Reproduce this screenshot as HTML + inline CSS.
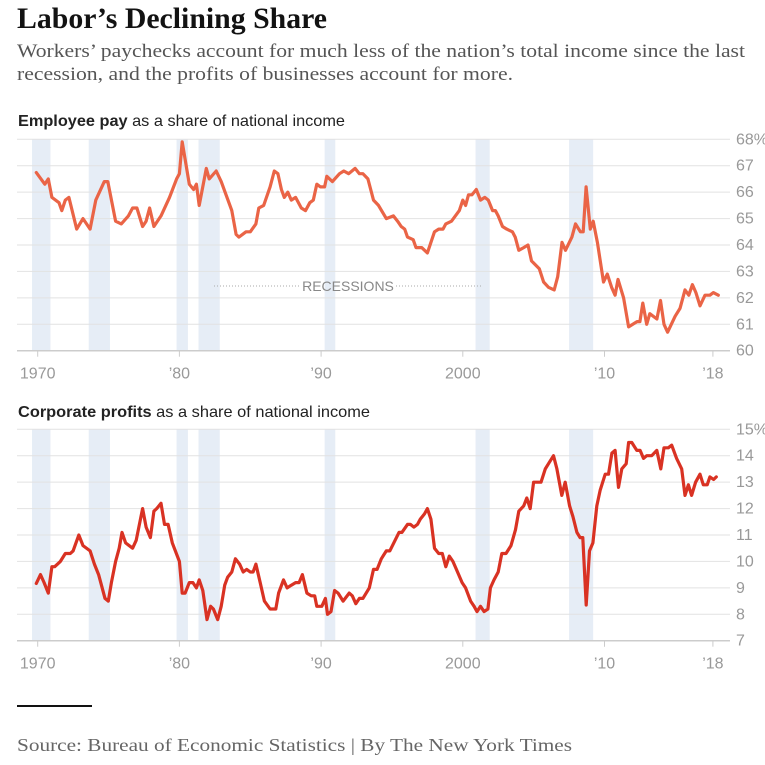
<!DOCTYPE html>
<html><head><meta charset="utf-8"><style>
body{margin:0;background:#fff;width:765px;height:765px;overflow:hidden}
svg{display:block}
.t{font-family:"Liberation Serif",serif}
.s{font-family:"Liberation Sans",sans-serif}
</style></head><body>
<svg id="c" width="765" height="765" viewBox="0 0 765 765">
<text class="t" x="17" y="28" font-size="30" font-weight="bold" fill="#121212" textLength="310" lengthAdjust="spacingAndGlyphs">Labor’s Declining Share</text>
<text class="t" x="17" y="57" font-size="19" fill="#555" textLength="728" lengthAdjust="spacingAndGlyphs">Workers’ paychecks account for much less of the nation’s total income since the last</text>
<text class="t" x="17" y="80" font-size="19" fill="#555" textLength="496" lengthAdjust="spacingAndGlyphs">recession, and the profits of businesses account for more.</text>
<text class="s" x="18" y="126" font-size="16" fill="#222" textLength="327" lengthAdjust="spacingAndGlyphs"><tspan font-weight="bold">Employee pay</tspan> as a share of national income</text>
<text class="s" x="18" y="417" font-size="16" fill="#222" textLength="352" lengthAdjust="spacingAndGlyphs"><tspan font-weight="bold">Corporate profits</tspan> as a share of national income</text>
<line x1="17" y1="706" x2="92" y2="706" stroke="#121212" stroke-width="2"/>
<text class="t" x="17" y="751" font-size="18" fill="#666" textLength="555" lengthAdjust="spacingAndGlyphs">Source: Bureau of Economic Statistics | By The New York Times</text>
<g id="g1"></g><g id="g2"></g>
</svg>
<script>
const recStart=[1969.6,1973.6,1979.8,1981.35,1990.25,2000.9,2007.5];
const recEnd=[1970.9,1975.1,1980.6,1982.85,1991.0,2001.9,2009.2];
const xTicks=[1970,1980,1990,2000,2010,2017.65];
const xTickLabels=["1970","’80","’90","2000","’10","’18"];
const payYears=[1969.9,1970.5,1970.75,1971,1971.5,1971.7,1971.95,1972.2,1972.75,1973.2,1973.7,1974.1,1974.7,1974.95,1975.5,1975.9,1976.4,1976.7,1977.0,1977.4,1977.65,1977.9,1978.2,1978.7,1979.3,1979.8,1980.0,1980.2,1980.7,1981.0,1981.2,1981.4,1981.9,1982.1,1982.6,1982.95,1983.7,1984.0,1984.2,1984.7,1985.0,1985.4,1985.6,1985.95,1986.4,1986.7,1986.95,1987.2,1987.4,1987.65,1987.9,1988.2,1988.6,1988.9,1989.2,1989.45,1989.7,1989.95,1990.25,1990.4,1990.8,1991.3,1991.6,1991.95,1992.4,1992.7,1992.95,1993.3,1993.7,1994.05,1994.6,1995.1,1995.4,1995.65,1995.9,1996.1,1996.5,1996.7,1997.1,1997.5,1998.0,1998.3,1998.6,1998.8,1999.2,1999.75,2000.0,2000.2,2000.4,2000.65,2000.95,2001.25,2001.55,2001.8,2002.1,2002.3,2002.5,2002.8,2003.1,2003.5,2003.7,2003.95,2004.3,2004.6,2004.85,2005.4,2005.7,2006.05,2006.45,2006.7,2007.0,2007.25,2007.7,2007.95,2008.3,2008.5,2008.7,2009.0,2009.2,2009.5,2009.93,2010.2,2010.5,2010.75,2010.95,2011.35,2011.7,2012.3,2012.5,2012.7,2012.98,2013.2,2013.7,2013.95,2014.2,2014.45,2014.98,2015.33,2015.68,2015.95,2016.2,2016.45,2016.74,2017.09,2017.44,2017.68,2018.03];
const payValues=[66.74,66.3,66.5,65.8,65.6,65.3,65.7,65.8,64.6,65.0,64.6,65.7,66.4,66.4,64.9,64.8,65.1,65.4,65.4,64.7,64.9,65.4,64.7,65.1,65.8,66.5,66.7,67.9,66.3,66.1,66.3,65.5,66.9,66.5,66.8,66.4,65.3,64.4,64.3,64.5,64.5,64.8,65.4,65.5,66.2,66.8,66.7,66.1,65.8,66.0,65.7,65.8,65.4,65.3,65.6,65.7,66.3,66.2,66.2,66.6,66.4,66.7,66.8,66.7,66.9,66.7,66.7,66.5,65.7,65.5,65.0,65.1,64.9,64.7,64.6,64.3,64.2,63.9,63.9,63.7,64.5,64.6,64.6,64.8,64.9,65.3,65.7,65.5,65.9,65.9,66.1,65.7,65.8,65.7,65.3,65.3,65.1,64.7,64.6,64.5,64.3,63.8,63.9,64.0,63.4,63.1,62.6,62.4,62.3,62.8,64.1,63.8,64.3,64.8,64.5,64.5,66.2,64.6,64.9,64.1,62.6,62.9,62.4,62.1,62.7,62.0,60.9,61.1,61.1,61.8,61.0,61.4,61.2,61.9,61.0,60.7,61.3,61.6,62.3,62.1,62.5,62.2,61.7,62.1,62.1,62.2,62.1];
const profitYears=[1969.9,1970.2,1970.45,1970.75,1971.0,1971.2,1971.6,1971.95,1972.3,1972.5,1972.9,1973.2,1973.7,1974.0,1974.3,1974.75,1974.98,1975.2,1975.5,1975.75,1975.95,1976.2,1976.7,1976.95,1977.4,1977.65,1977.95,1978.2,1978.4,1978.7,1978.95,1979.2,1979.5,1980.0,1980.2,1980.4,1980.7,1980.95,1981.2,1981.4,1981.65,1981.95,1982.2,1982.4,1982.7,1982.95,1983.2,1983.4,1983.7,1983.95,1984.25,1984.5,1984.75,1985.0,1985.2,1985.4,1985.7,1986.0,1986.4,1986.8,1987.0,1987.35,1987.6,1987.9,1988.2,1988.45,1988.68,1989.0,1989.3,1989.55,1989.7,1990.05,1990.3,1990.45,1990.7,1990.95,1991.2,1991.55,1991.98,1992.2,1992.45,1992.7,1992.95,1993.4,1993.7,1993.95,1994.25,1994.6,1994.85,1995.5,1995.7,1996.1,1996.3,1996.55,1996.8,1997.0,1997.3,1997.5,1997.75,1998.0,1998.3,1998.55,1998.8,1999.05,1999.3,1999.55,1999.95,2000.2,2000.55,2000.8,2001.0,2001.25,2001.5,2001.77,2001.95,2002.2,2002.5,2002.75,2003.05,2003.4,2003.72,2003.95,2004.3,2004.52,2004.76,2005.0,2005.24,2005.52,2005.82,2006.05,2006.4,2006.64,2006.99,2007.23,2007.54,2007.77,2008.05,2008.28,2008.47,2008.71,2008.94,2009.18,2009.46,2009.7,2010.05,2010.28,2010.52,2010.75,2010.99,2011.22,2011.53,2011.7,2011.93,2012.28,2012.51,2012.75,2012.98,2013.33,2013.69,2013.97,2014.2,2014.5,2014.74,2015.09,2015.45,2015.68,2015.92,2016.15,2016.43,2016.74,2016.97,2017.25,2017.44,2017.7,2017.89,2018.0];
const profitValues=[9.17,9.5,9.2,8.8,9.8,9.8,10.0,10.3,10.3,10.4,11.0,10.6,10.4,9.9,9.5,8.6,8.5,9.2,10.0,10.5,11.1,10.7,10.5,10.8,12.0,11.3,10.9,11.9,12.0,12.2,11.4,11.4,10.7,10.0,8.8,8.8,9.2,9.2,9.0,9.3,8.9,7.8,8.3,8.2,7.8,8.3,9.1,9.4,9.6,10.1,9.9,9.6,9.7,9.6,9.6,9.9,9.2,8.5,8.2,8.2,8.8,9.3,9.0,9.1,9.2,9.2,9.5,8.8,8.7,8.7,8.3,8.3,8.6,8.0,8.1,8.9,8.8,8.5,8.8,8.7,8.4,8.6,8.6,9.0,9.7,9.7,10.1,10.4,10.4,11.1,11.1,11.4,11.4,11.3,11.4,11.6,11.8,12.0,11.6,10.5,10.3,10.3,9.8,10.2,10.0,9.7,9.2,9.0,8.5,8.3,8.1,8.3,8.1,8.2,9.0,9.3,9.6,10.3,10.3,10.6,11.2,11.9,12.1,12.4,12.0,13.0,13.0,13.0,13.5,13.7,14.0,13.5,12.5,13.0,12.1,11.7,11.1,10.9,10.9,8.35,10.4,10.7,12.1,12.7,13.3,13.3,14.1,14.2,12.8,13.5,13.7,14.5,14.5,14.2,14.2,13.9,14.0,14.0,14.2,13.5,14.3,14.3,14.4,13.9,13.5,12.5,12.9,12.5,13.0,13.3,12.9,12.9,13.2,13.1,13.2];
const payTicks=[60,61,62,63,64,65,66,67,68];
const profitTicks=[7,8,9,10,11,12,13,14,15];

const NS="http://www.w3.org/2000/svg";
const X0=17,X1=730;
function xs(yr){return 37.7+(yr-1970)*14.17;}
function mk(tag,attrs,parent){const e=document.createElementNS(NS,tag);for(const k in attrs)e.setAttribute(k,attrs[k]);parent.appendChild(e);return e;}
function draw(gid,top,bottom,ticks,years,vals,color,pfx,withRec){
  const g=document.getElementById(gid);
  const vmin=ticks[0],vmax=ticks[ticks.length-1];
  const ys=v=>bottom-(v-vmin)/(vmax-vmin)*(bottom-top);
  recStart.forEach((s,i)=>{
    const r=mk('rect',{x:xs(s),y:top,width:xs(recEnd[i])-xs(s),height:bottom-top,fill:'#e6edf6'},g);
    
    
  });
  ticks.forEach((t,i)=>{
    const l=mk('line',{x1:X0,x2:X1,y1:ys(t),y2:ys(t),stroke:i==0?'#ccc':'#e2e2e2','stroke-width':i==0?1.5:1},g);
    
    
    const tx=mk('text',{x:736,y:ys(t)+5,'font-size':16,fill:'#999','class':'s'},g);
    tx.textContent=t+(i==ticks.length-1?'%':'');
    
    
  });
  xTicks.forEach((t,i)=>{
    const l=mk('line',{x1:xs(t),x2:xs(t),y1:bottom,y2:bottom+6,stroke:'#ccc'},g);
    
    
    const tx=mk('text',{x:xs(t),y:bottom+28,'font-size':16,fill:'#999','text-anchor':'middle','class':'s'},g);
    tx.textContent=xTickLabels[i];
    
    
  });
  if(withRec){
    const l1=mk('line',{x1:214,x2:300,y1:286,y2:286,stroke:'#aaa','stroke-dasharray':'1 2'},g);
    
    
    const l2=mk('line',{x1:396,x2:481,y1:286,y2:286,stroke:'#aaa','stroke-dasharray':'1 2'},g);
    
    
    const tx=mk('text',{x:348,y:291,'font-size':14,fill:'#888','text-anchor':'middle','class':'s'},g);
    tx.textContent='RECESSIONS';
    
    
  }
  const d=years.map((y,i)=>(i?'L':'M')+xs(y).toFixed(1)+' '+ys(vals[i]).toFixed(1)).join('');
  const p=mk('path',{d:d,fill:'none',stroke:color,'stroke-width':3.2,'stroke-linejoin':'round','stroke-linecap':'round'},g);
  
  
}
draw('g1',139.3,350.7,payTicks,payYears,payValues,'#ea6446','employee-pay',true);
draw('g2',429.3,640.7,profitTicks,profitYears,profitValues,'#d93223','corporate-profits',false);
</script>
</body></html>
